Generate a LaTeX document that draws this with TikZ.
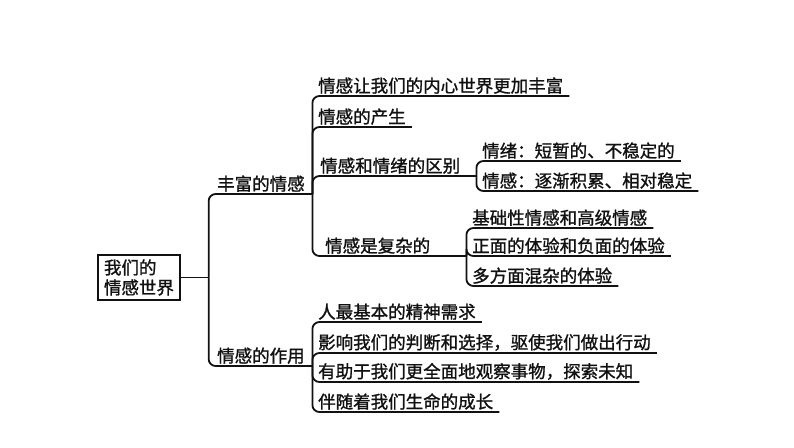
\documentclass[tikz,border=0pt]{standalone}
\usepackage{fontspec}
\usepackage{tikz}
\usetikzlibrary{positioning}
\newfontfamily\cjk[FakeBold=1.2]{Noto Sans CJK SC}
\definecolor{ink}{HTML}{111111}
\definecolor{paper}{HTML}{FFFFFF}

\begin{document}
\begin{tikzpicture}[
  x=1pt,
  y=-1pt,
  topic/.style={
    draw=ink,line width=1.3pt,fill=paper,align=left,
    inner xsep=6pt,inner ysep=4.5pt,
    font=\cjk\fontsize{17.5}{20}\selectfont,text=ink
  },
  item/.style={
    anchor=south west,inner xsep=6pt,inner ysep=2pt,
    font=\cjk\fontsize{17.5}{20}\selectfont,text=ink
  },
  branch/.style={item,text width=#1,align=left,inner xsep=8pt},
  link/.style={draw=ink,line width=1.8pt,rounded corners=7pt}
]
  \useasboundingbox[fill=paper] (0,0) rectangle (794,447);

  % Root
  \node[topic] (root) at (139,277.5) {我们的\\情感世界};
  \coordinate (fork) at ([xshift=28pt]root.east);
  \node[branch=87pt] (rich) at (209,194) {丰富的情感};
  \node[branch=87pt] (role) at (209,366) {情感的作用};
  \draw[link] (root.east) -- (fork);
  \draw[link] (fork) |- (rich.south east);
  \draw[link] (fork) |- (role.south east);

  % Rich emotions
  \node[item] (rich-a) at (312,96) {情感让我们的内心世界更加丰富};
  \node[item] (rich-b) at (312,127) {情感的产生};
  \node[branch=148pt] (rich-c) at (312,176) {情感和情绪的区别};
  \node[branch=128pt,inner xsep=13pt] (rich-d) at (312,256) {情感是复杂的};
  \draw[link] (rich.south east) |- (rich-a.south east);
  \draw[link] (rich.south east) |- (rich-b.south east);
  \draw[link] (rich.south east) |- (rich-c.south east);
  \draw[link] (rich.south east) |- (rich-d.south east);

  % Difference
  \node[item] (diff-a) at (476,161) {情绪：短暂的、不稳定的};
  \node[item] (diff-b) at (476,191) {情感：逐渐积累、相对稳定};
  \draw[link] (rich-c.south east) |- (diff-a.south east);
  \draw[link] (rich-c.south east) |- (diff-b.south east);

  % Complexity
  \node[item] (cplx-a) at (466,228) {基础性情感和高级情感};
  \node[item] (cplx-b) at (466,256) {正面的体验和负面的体验};
  \node[item] (cplx-c) at (466,286) {多方面混杂的体验};
  \draw[link] (rich-d.south east) |- (cplx-a.south east);
  \draw[link] (rich-d.south east) |- (cplx-b.south east);
  \draw[link] (rich-d.south east) |- (cplx-c.south east);

  % Role of emotions
  \node[item] (role-a) at (312,322) {人最基本的精神需求};
  \node[item] (role-b) at (312,353) {影响我们的判断和选择，驱使我们做出行动};
  \node[item] (role-c) at (312,382) {有助于我们更全面地观察事物，探索未知};
  \node[item] (role-d) at (312,412) {伴随着我们生命的成长};
  \draw[link] (role.south east) |- (role-a.south east);
  \draw[link] (role.south east) |- (role-b.south east);
  \draw[link] (role.south east) |- (role-c.south east);
  \draw[link] (role.south east) |- (role-d.south east);
\end{tikzpicture}
\end{document}
